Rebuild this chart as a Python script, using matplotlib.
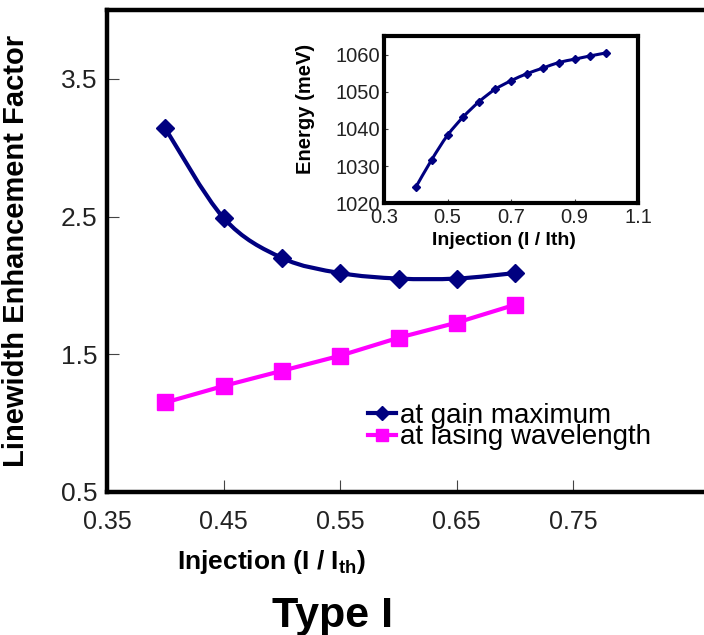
import matplotlib
matplotlib.use("Agg")
import matplotlib.pyplot as plt
import numpy as np
from matplotlib.path import Path
from matplotlib.patches import PathPatch
from matplotlib.lines import Line2D

plt.rcParams['font.family'] = ['Liberation Sans', 'DejaVu Sans']
plt.rcParams['mathtext.fontset'] = 'custom'
plt.rcParams['mathtext.rm'] = 'Liberation Sans'
plt.rcParams['mathtext.bf'] = 'Liberation Sans:bold'

# main chart data
injection = [0.40, 0.45, 0.50, 0.55, 0.60, 0.65, 0.70]
alpha_gain_max = [3.14, 2.49, 2.20, 2.09, 2.05, 2.05, 2.09]
alpha_lasing = [1.15, 1.27, 1.38, 1.49, 1.62, 1.73, 1.86]
series_labels = ['at gain maximum', 'at lasing wavelength']

# inset data
inset_injection = [0.40, 0.45, 0.50, 0.55, 0.60, 0.65, 0.70, 0.75, 0.80,
                   0.85, 0.90, 0.95, 1.00]
inset_energy = [1024.3, 1031.7, 1038.3, 1043.3, 1047.4, 1050.7, 1053.0,
                1054.9, 1056.4, 1057.9, 1058.8, 1059.7, 1060.5]

x_ticks = [0.35, 0.45, 0.55, 0.65, 0.75]
y_ticks = [0.5, 1.5, 2.5, 3.5]
inset_x_ticks = [0.3, 0.5, 0.7, 0.9, 1.1]
inset_y_ticks = [1020, 1030, 1040, 1050, 1060]

NAVY = '#000080'
MAGENTA = '#ff00ff'


def smooth_path(x, y):
    # Excel-like smoothed line: Catmull-Rom segments as cubic beziers
    x = np.asarray(x, float)
    y = np.asarray(y, float)
    pts = np.column_stack([x, y])
    verts = [pts[0]]
    codes = [Path.MOVETO]
    n = len(pts)
    for i in range(n - 1):
        p0 = pts[i - 1] if i > 0 else pts[i]
        p1 = pts[i]
        p2 = pts[i + 1]
        p3 = pts[i + 2] if i + 2 < n else pts[i + 1]
        verts += [p1 + (p2 - p0) / 6, p2 - (p3 - p1) / 6, p2]
        codes += [Path.CURVE4] * 3
    return Path(verts, codes)


fig = plt.figure(figsize=(7.04, 6.35), dpi=100)
ax = fig.add_axes([0.152, 0.2252, 0.848, 0.759])

ax.add_patch(PathPatch(smooth_path(injection, alpha_gain_max), fill=False,
                       edgecolor=NAVY, lw=3, zorder=3))
ax.plot(injection, alpha_gain_max, linestyle='none', marker='D',
        markersize=9, color=NAVY, zorder=4)
ax.plot(injection, alpha_lasing, color=MAGENTA, lw=3, marker='s',
        markersize=11, zorder=4)

ax.set_xlim(0.35, 0.862)
ax.set_ylim(0.5, 4.0)
ax.set_xticks(x_ticks)
ax.set_xticklabels(['%.2f' % v for v in x_ticks])
ax.set_yticks(y_ticks)
ax.set_yticklabels(['%.1f' % v for v in y_ticks])
ax.tick_params(axis='both', direction='in', length=8.5, width=0.8,
               color='#444444', labelcolor='#222222')
ax.tick_params(axis='x', labelsize=18, pad=13)
ax.tick_params(axis='y', labelsize=19, pad=7)
for side in ['left', 'bottom', 'top']:
    ax.spines[side].set_linewidth(3.2)
ax.spines['right'].set_visible(False)

ax.set_ylabel('Linewidth Enhancement Factor', fontsize=21, fontweight='bold')
ax.yaxis.set_label_coords(-0.129, 0.5)
ax.set_xlabel(r'Injection (I / I$_{\mathbf{th}}$)', fontsize=19,
              fontweight='bold')
ax.xaxis.set_label_coords(0.276, -0.116)

handles = [Line2D([], [], color=NAVY, lw=3, marker='D', markersize=7),
           Line2D([], [], color=MAGENTA, lw=3, marker='s', markersize=8)]
ax.legend(handles, series_labels, loc='center left',
          bbox_to_anchor=(0.437, 0.136), frameon=False, fontsize=20,
          handlelength=1.0, handletextpad=0.15, labelspacing=-0.16,
          borderpad=0, borderaxespad=0)

# inset
ins = fig.add_axes([0.5455, 0.680, 0.3608, 0.263])
ins.add_patch(PathPatch(smooth_path(inset_injection, inset_energy),
                        fill=False, edgecolor=NAVY, lw=2.2, zorder=3))
ins.plot(inset_injection, inset_energy, linestyle='none', marker='D',
         markersize=4.5, color=NAVY, zorder=4)
ins.set_xlim(0.3, 1.1)
ins.set_ylim(1020, 1065)
ins.set_xticks(inset_x_ticks)
ins.set_xticklabels(['%.1f' % v for v in inset_x_ticks])
ins.set_yticks(inset_y_ticks)
ins.tick_params(axis='both', direction='in', length=3, width=0.8,
                color='#444444', labelcolor='#222222', labelsize=14.5)
ins.tick_params(axis='x', pad=3.5)
ins.tick_params(axis='y', pad=3)
for side in ins.spines:
    ins.spines[side].set_linewidth(3)
ins.set_ylabel('Energy (meV)', fontsize=14.5, fontweight='bold')
ins.yaxis.set_label_coords(-0.272, 0.563)
ins.set_xlabel('Injection (I / Ith)', fontsize=14, fontweight='bold')
ins.xaxis.set_label_coords(0.472, -0.174)

fig.text(0.4716, 0.0126, 'Type I', fontsize=31, fontweight='bold',
         ha='center', va='baseline')

fig.savefig('out.png', dpi=100)
